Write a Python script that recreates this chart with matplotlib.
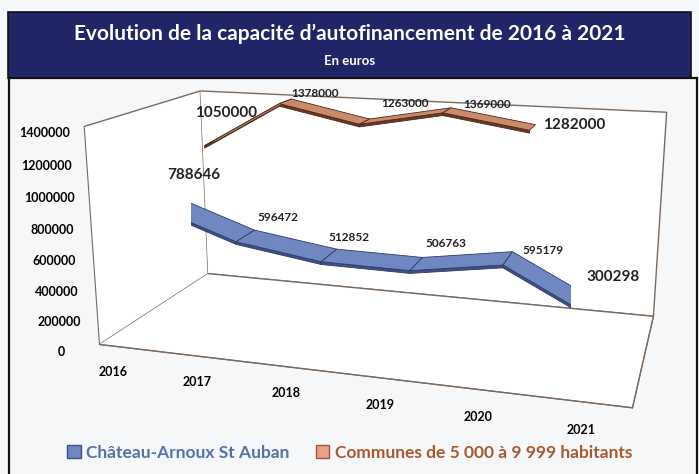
import matplotlib.pyplot as plt
import numpy as np
from matplotlib.patches import Rectangle, Patch
from mpl_toolkits.mplot3d import proj3d
from mpl_toolkits.mplot3d.art3d import Poly3DCollection

# data
years = ['2016', '2017', '2018', '2019', '2020', '2021']
chateau = [788646, 596472, 512852, 506763, 595179, 300298]
communes = [1050000, 1378000, 1263000, 1369000, 1282000]
z_ticks = [0, 200000, 400000, 600000, 800000, 1000000, 1200000, 1400000]

# label placement (pixel offsets from the point)
chateau_off = [(30, 26), (32, 18), (20, 18), (30, 20), (35, 8), (12, 36)]
communes_off = [(15, 30), (30, 8), (40, 18), (40, 6), (10, 2)]

plt.rcParams['font.family'] = ['Lato', 'DejaVu Sans']

fig = plt.figure(figsize=(6.99, 4.74), dpi=100)
fig.patch.set_facecolor('#f6f7f9')

# title banner
fig.patches.append(Rectangle((8 / 699, 1 - 78 / 474), 683 / 699, 66 / 474,
                             transform=fig.transFigure, facecolor='#1f2566',
                             edgecolor='#111111', lw=1.2))
# frame around chart
fig.patches.append(Rectangle((9 / 699, -0.01), 688 / 699, 1 - 78 / 474 + 0.01,
                             transform=fig.transFigure, facecolor='none',
                             edgecolor='#111111', lw=1.6))
fig.text(0.5, 1 - 34 / 474, "Evolution de la capacité d\u2019autofinancement de 2016 à 2021",
         ha='center', va='center', color='white', fontsize=15, fontweight='bold')
fig.text(0.5, 1 - 61 / 474, "En euros", ha='center', va='center', color='white',
         fontsize=9.5, fontweight='bold')

ax = fig.add_axes([0.045, 0.11, 1.0, 0.80], projection='3d')
ax.set_facecolor('none')
ax.set_proj_type('persp', focal_length=0.55)
ax.view_init(elev=15, azim=-73)
ax.set_box_aspect((3.8, 1.8, 1.6), zoom=1.57)

edge = '#7a6a5e'
for a in (ax.xaxis, ax.yaxis, ax.zaxis):
    a.pane.set_facecolor('white')
    a.pane.set_edgecolor(edge)
    a.pane.set_linewidth(1.0)
    a.pane.set_alpha(1)
    a.line.set_color(edge)
    a._axinfo['tick']['inward_factor'] = 0
    a._axinfo['tick']['outward_factor'] = 0
    a.label.set_visible(False)
    a.offsetText.set_visible(False)
ax.grid(False)


def ribbon(values, y0, w, top, side, dark):
    xs = np.arange(len(values))
    tops, fronts = [], []
    thick = 18000
    for i in range(len(values) - 1):
        x0, x1 = xs[i], xs[i + 1]
        z0, z1 = values[i], values[i + 1]
        tops.append([(x0, y0 - w / 2, z0), (x1, y0 - w / 2, z1),
                     (x1, y0 + w / 2, z1), (x0, y0 + w / 2, z0)])
        fronts.append([(x0, y0 - w / 2, z0), (x1, y0 - w / 2, z1),
                       (x1, y0 - w / 2, z1 - thick), (x0, y0 - w / 2, z0 - thick)])
    ax.add_collection3d(Poly3DCollection(fronts, facecolor=side, edgecolor=dark, lw=0.6))
    ax.add_collection3d(Poly3DCollection(tops, facecolor=top, edgecolor=dark, lw=0.6))


ribbon(communes, 1.0, 0.30, '#c98b6c', '#6b3a25', '#4a2616')
ribbon(chateau, 0.0, 0.40, '#6f88c2', '#3e5286', '#2c3a63')

ax.set_xlim(-0.25, 5.45)
ax.set_ylim(-0.9, 1.2)
ax.set_zlim(0, 1400000)
ax.set_xticks(range(len(years)))
ax.set_xticklabels(years, fontsize=9, fontweight='bold')
ax.set_yticks([])
ax.set_zticks(z_ticks)
ax.set_zticklabels([str(v) for v in z_ticks], fontsize=9, fontweight='bold')
ax.zaxis.set_ticks_position('lower')
ax.tick_params(axis='both', length=0, pad=1)

# data labels, placed on the projected points
M = ax.get_proj()


def label(x, y, z, txt, off, fs, ha='center'):
    px, py, _ = proj3d.proj_transform(x, y, z, M)
    ax.annotate(txt, (px, py), xytext=off, textcoords='offset pixels',
                fontsize=fs, fontweight='bold', color='#222222',
                ha=ha, va='center', zorder=10, annotation_clip=False)


for i, v in enumerate(chateau):
    fs = 11 if i in (0, len(chateau) - 1) else 8.5
    label(i, 0.0, v, str(v), chateau_off[i], fs)
for i, v in enumerate(communes):
    last = i == len(communes) - 1
    fs = 11 if i == 0 or last else 8.5
    label(i, 1.0, v, str(v), communes_off[i], fs, ha='left' if last else 'center')

handles = [Patch(facecolor='#6f88c2', edgecolor='#3e5286'),
           Patch(facecolor='#e8a283', edgecolor='#9a5a3a')]
leg = fig.legend(handles, ['Château-Arnoux St Auban', 'Communes de 5 000 à 9 999 habitants'],
                 loc='lower center', bbox_to_anchor=(0.5, -0.005), ncol=2, frameon=False,
                 prop={'size': 12.5, 'weight': 'bold'}, handlelength=0.8, handleheight=0.8,
                 columnspacing=1.5, handletextpad=0.3)
for t, c in zip(leg.get_texts(), ['#5670ad', '#a85a2e']):
    t.set_color(c)

fig.savefig('out.png', dpi=100, facecolor=fig.get_facecolor())
